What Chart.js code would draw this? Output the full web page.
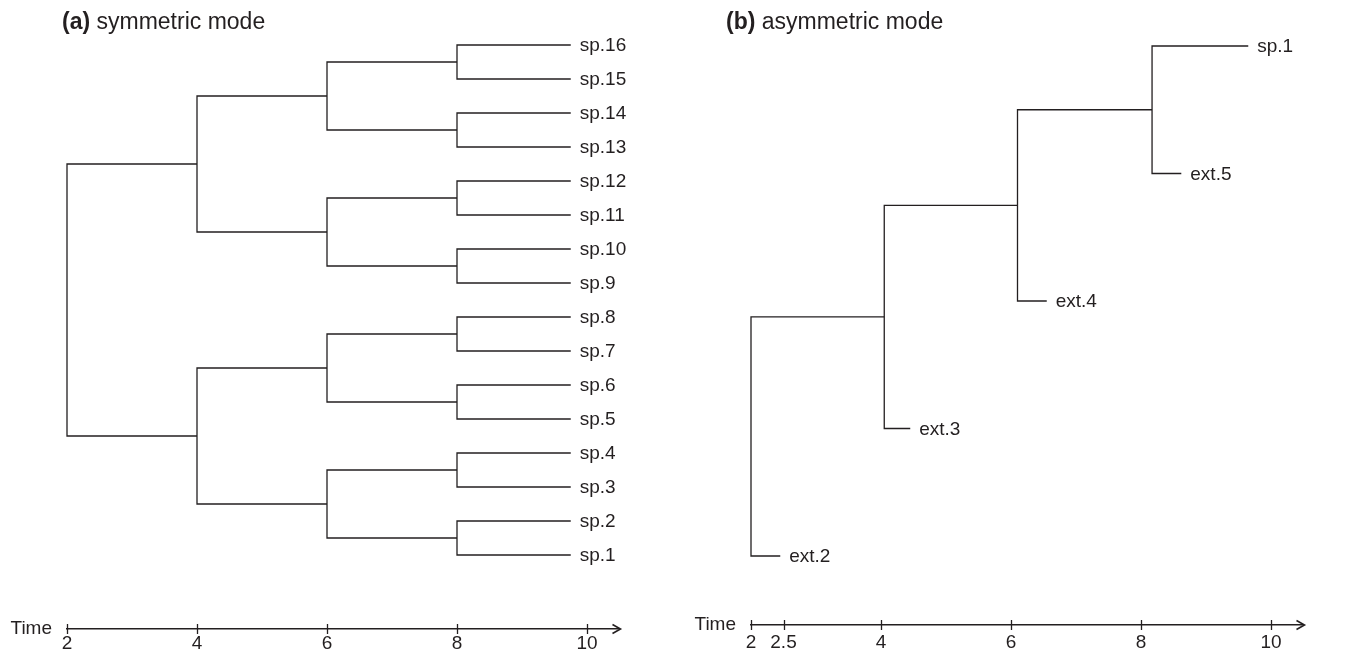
<!DOCTYPE html>
<html>
<head>
<meta charset="utf-8">
<script src="https://cdn.jsdelivr.net/npm/chart.js@4.4.0/dist/chart.umd.min.js"></script>
<style>
  html, body { margin: 0; padding: 0; background: #fff; overflow: hidden; }
  #wrap { display: flex; width: 1349px; height: 654px; }
  canvas { display: block; }
</style>
</head>
<body>
<div id="wrap">
  <canvas id="treeA" width="674" height="654"></canvas>
  <canvas id="treeB" width="675" height="654"></canvas>
</div>
<script>
// (a) symmetric mode: 16 tips, balanced splits
var leavesA = ['sp.1', 'sp.2', 'sp.3', 'sp.4', 'sp.5', 'sp.6', 'sp.7', 'sp.8',
               'sp.9', 'sp.10', 'sp.11', 'sp.12', 'sp.13', 'sp.14', 'sp.15', 'sp.16'];
var splitTimesA = [2, 4, 6, 8];
var tipTimeA = 9.75;
var ticksA = [2, 4, 6, 8, 10];

// (b) asymmetric mode: tips listed bottom to top
var leavesB = ['ext.2', 'ext.3', 'ext.4', 'ext.5', 'sp.1'];
var splitTimesB = [2, 4.05, 6.1, 8.17];
var tipTimesB = [2.45, 4.45, 6.55, 8.62, 9.65];
var ticksB = [2, 2.5, 4, 6, 8, 10];

var ink = '#231f20';
var FONT = "'Liberation Sans', Arial, Helvetica, sans-serif";
Chart.defaults.font.family = FONT;
Chart.defaults.color = ink;

// balanced tree: each internal node becomes one bracket-shaped polyline
function buildSym(lo, hi, level, out) {
  if (lo === hi) return { y: lo, t: tipTimeA };
  var mid = Math.floor((lo + hi) / 2);
  var a = buildSym(lo, mid, level + 1, out);
  var b = buildSym(mid + 1, hi, level + 1, out);
  var t = splitTimesA[level];
  out.push([{ x: a.t, y: a.y }, { x: t, y: a.y }, { x: t, y: b.y }, { x: b.t, y: b.y }]);
  return { y: (a.y + b.y) / 2, t: t };
}

// caterpillar tree: every split sheds one extinct tip
function buildCat(out) {
  var n = leavesB.length;
  var top = { y: n, t: tipTimesB[n - 1] };
  for (var i = splitTimesB.length - 1; i >= 0; i--) {
    var leaf = { y: i + 1, t: tipTimesB[i] };
    var t = splitTimesB[i];
    out.push([{ x: leaf.t, y: leaf.y }, { x: t, y: leaf.y }, { x: t, y: top.y }, { x: top.t, y: top.y }]);
    top = { y: (leaf.y + top.y) / 2, t: t };
  }
}

var segsA = [];
buildSym(1, leavesA.length, 0, segsA);
var segsB = [];
buildCat(segsB);

var tipsA = leavesA.map(function (name, i) { return { name: name, x: tipTimeA, y: i + 1 }; });
var tipsB = leavesB.map(function (name, i) { return { name: name, x: tipTimesB[i], y: i + 1 }; });

var treeDecor = {
  id: 'treeDecor',
  afterDraw: function (chart) {
    var o = chart.options.plugins.treeDecor;
    var ctx = chart.ctx, xs = chart.scales.x, ys = chart.scales.y;
    var area = chart.chartArea, ay = area.bottom;
    ctx.save();
    ctx.strokeStyle = ink;
    ctx.fillStyle = ink;

    // tick marks crossing the time axis
    ctx.lineWidth = 1.3;
    o.ticks.forEach(function (v) {
      var px = Math.round(xs.getPixelForValue(v)) + 0.5;
      ctx.beginPath();
      ctx.moveTo(px, ay - 5);
      ctx.lineTo(px, ay + 5);
      ctx.stroke();
    });

    // arrow head
    ctx.lineWidth = 1.6;
    ctx.beginPath();
    ctx.moveTo(area.right - 7, ay - 4.5);
    ctx.lineTo(area.right + 1, ay);
    ctx.lineTo(area.right - 7, ay + 4.5);
    ctx.stroke();

    // axis name
    ctx.font = '19px ' + FONT;
    ctx.textAlign = 'right';
    ctx.textBaseline = 'middle';
    ctx.fillText('Time', area.left - 15, ay);

    // tip labels
    ctx.textAlign = 'left';
    o.tips.forEach(function (p) {
      ctx.fillText(p.name, xs.getPixelForValue(p.x) + 9, ys.getPixelForValue(p.y) + 1);
    });

    // panel title
    ctx.textBaseline = 'alphabetic';
    ctx.font = 'bold 23px ' + FONT;
    ctx.fillText(o.tag, o.titleX, 29);
    var w = ctx.measureText(o.tag).width;
    ctx.font = '23px ' + FONT;
    ctx.fillText(' ' + o.title, o.titleX + w, 29);
    ctx.restore();
  }
};

function makeTree(id, segs, cfg) {
  return new Chart(document.getElementById(id), {
    type: 'scatter',
    data: {
      datasets: segs.map(function (s) {
        return {
          data: s,
          showLine: true,
          borderColor: ink,
          borderWidth: 1.3,
          pointRadius: 0,
          pointHoverRadius: 0,
          tension: 0,
          fill: false,
          clip: false
        };
      })
    },
    options: {
      responsive: false,
      animation: false,
      devicePixelRatio: 1,
      events: [],
      layout: { padding: cfg.padding },
      plugins: {
        legend: { display: false },
        tooltip: { enabled: false },
        treeDecor: { ticks: cfg.ticks, tips: cfg.tips, tag: cfg.tag, title: cfg.title, titleX: cfg.titleX }
      },
      scales: {
        x: {
          type: 'linear',
          min: 2,
          max: 10.5,
          afterBuildTicks: function (scale) {
            scale.ticks = cfg.ticks.map(function (v) { return { value: v }; });
          },
          ticks: {
            color: ink,
            font: { size: 19 },
            padding: cfg.tickPad,
            maxRotation: 0,
            autoSkip: false
          },
          grid: { drawOnChartArea: false, drawTicks: false },
          border: { display: true, color: ink, width: 1.6 }
        },
        y: { display: false, min: cfg.yMin, max: cfg.yMax }
      }
    },
    plugins: [treeDecor]
  });
}

makeTree('treeA', segsA, {
  ticks: ticksA, tips: tipsA, tag: '(a)', title: 'symmetric mode', titleX: 62,
  padding: { left: 67, right: 54.5, top: 28, bottom: -3.8 },
  tickPad: 3, yMin: -1.176, yMax: 16.5
});

makeTree('treeB', segsB, {
  ticks: ticksB, tips: tipsB, tag: '(b)', title: 'asymmetric mode', titleX: 52,
  padding: { left: 77, right: 45.5, top: 28, bottom: -5.8 },
  tickPad: 6, yMin: 0.459, yMax: 5.141
});
</script>
</body>
</html>
